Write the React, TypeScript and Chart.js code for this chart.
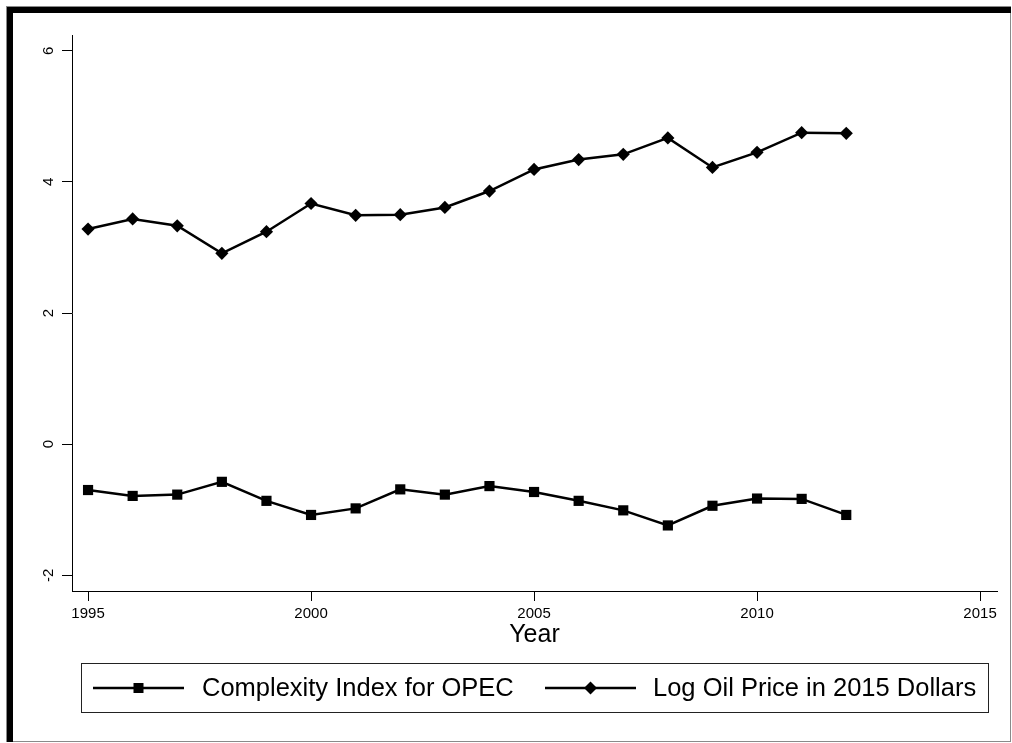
import React, { useEffect, useRef } from "react";
import { Chart, registerables } from "chart.js";

Chart.register(...registerables);

const years = [1995, 1996, 1997, 1998, 1999, 2000, 2001, 2002, 2003, 2004, 2005, 2006, 2007, 2008, 2009, 2010, 2011, 2012];
const complexity = [-0.70, -0.79, -0.77, -0.575, -0.865, -1.08, -0.98, -0.69, -0.77, -0.64, -0.73, -0.865, -1.01, -1.24, -0.94, -0.83, -0.835, -1.08];
const oilPrice = [3.28, 3.435, 3.33, 2.91, 3.24, 3.67, 3.49, 3.50, 3.61, 3.86, 4.19, 4.34, 4.42, 4.67, 4.22, 4.45, 4.75, 4.74];
const xTicks = [1995, 2000, 2005, 2010, 2015];
const yTicks = [-2, 0, 2, 4, 6];
const seriesNames = ["Complexity Index for OPEC", "Log Oil Price in 2015 Dollars"];

const FONT = "'Liberation Sans', Arial, Helvetica, sans-serif";

const framePlugin = {
  id: "frame",
  beforeDraw(chart: any) {
    const ctx = chart.ctx;
    ctx.save();
    ctx.fillStyle = "#ffffff";
    ctx.fillRect(0, 0, chart.width, chart.height);
    ctx.strokeStyle = "#8a8a8a";
    ctx.lineWidth = 1;
    ctx.strokeRect(6.5, 6.5, 1004, 735);
    ctx.fillStyle = "#000000";
    ctx.fillRect(7, 7, 1004, 6);
    ctx.fillRect(7, 7, 6, 735);
    ctx.restore();
  },
  afterDraw(chart: any) {
    const ctx = chart.ctx;
    ctx.save();
    ctx.strokeStyle = "#222";
    ctx.lineWidth = 1;
    ctx.strokeRect(81.5, 663.5, 907, 49);
    const cy = 688;
    const items = [
      { x0: 93, x1: 184, name: seriesNames[0], style: "rect", tx: 202 },
      { x0: 545, x1: 636, name: seriesNames[1], style: "diamond", tx: 653 },
    ];
    ctx.font = `25.5px ${FONT}`;
    ctx.textBaseline = "middle";
    ctx.textAlign = "left";
    for (const it of items) {
      ctx.strokeStyle = "#000";
      ctx.lineWidth = 2.5;
      ctx.beginPath();
      ctx.moveTo(it.x0, cy);
      ctx.lineTo(it.x1, cy);
      ctx.stroke();
      const mx = (it.x0 + it.x1) / 2;
      ctx.fillStyle = "#000";
      if (it.style === "rect") {
        ctx.fillRect(mx - 5, cy - 5, 10, 10);
      } else {
        ctx.beginPath();
        ctx.moveTo(mx, cy - 6.5);
        ctx.lineTo(mx + 6.5, cy);
        ctx.lineTo(mx, cy + 6.5);
        ctx.lineTo(mx - 6.5, cy);
        ctx.closePath();
        ctx.fill();
      }
      ctx.fillText(it.name, it.tx, cy + 1);
    }
    ctx.restore();
  },
};

export default function App() {
  const ref = useRef<HTMLCanvasElement | null>(null);
  useEffect(() => {
    document.body.style.margin = "0";
    const canvas = ref.current;
    if (!canvas) return;
    const chart = new Chart(canvas, {
      type: "line",
      data: {
        datasets: [
          {
            label: seriesNames[0],
            data: years.map((y, i) => ({ x: y, y: complexity[i] })),
            borderColor: "#000",
            backgroundColor: "#000",
            borderWidth: 2.5,
            pointStyle: "rect",
            pointRadius: 7.2,
            pointBorderWidth: 0,
            pointBackgroundColor: "#000",
            tension: 0,
          },
          {
            label: seriesNames[1],
            data: years.map((y, i) => ({ x: y, y: oilPrice[i] })),
            borderColor: "#000",
            backgroundColor: "#000",
            borderWidth: 2.5,
            pointStyle: "rectRot",
            pointRadius: 6.6,
            pointBorderWidth: 0,
            pointBackgroundColor: "#000",
            tension: 0,
          },
        ],
      },
      options: {
        responsive: false,
        animation: false,
        layout: { padding: { left: 0, top: 35, right: 15, bottom: 0 } },
        plugins: { legend: { display: false }, tooltip: { enabled: false } },
        scales: {
          x: {
            type: "linear",
            position: "bottom",
            min: 1994.64,
            max: 2015.38,
            afterBuildTicks: (s: any) => {
              s.ticks = xTicks.map((v) => ({ value: v }));
            },
            afterFit: (s: any) => {
              s.height = 152;
            },
            grid: { display: true, drawOnChartArea: false, drawTicks: true, tickLength: 10, color: "#000", lineWidth: 1 },
            border: { display: true, color: "#000", width: 1 },
            ticks: {
              color: "#000",
              font: { family: FONT, size: 15 },
              padding: 4,
              maxRotation: 0,
              minRotation: 0,
              autoSkip: false,
              callback: (v: any) => String(v),
            },
            title: {
              display: true,
              text: "Year",
              color: "#000",
              font: { family: FONT, size: 25 },
              padding: { top: 0, bottom: 93 },
            },
          },
          y: {
            type: "linear",
            position: "left",
            min: -2.24,
            max: 6.24,
            afterBuildTicks: (s: any) => {
              s.ticks = yTicks.map((v) => ({ value: v }));
            },
            afterFit: (s: any) => {
              s.width = 72;
            },
            grid: { display: true, drawOnChartArea: false, drawTicks: true, tickLength: 10, color: "#000", lineWidth: 1 },
            border: { display: true, color: "#000", width: 1 },
            ticks: {
              color: "#000",
              font: { family: FONT, size: 15 },
              padding: 6,
              minRotation: 90,
              maxRotation: 90,
              crossAlign: "center",
              autoSkip: false,
              callback: (v: any) => String(v),
            },
          },
        },
      },
      plugins: [framePlugin],
    } as any);
    return () => chart.destroy();
  }, []);
  return (
    <div style={{ width: 1012, height: 743, position: "relative" }}>
      <canvas ref={ref} width={1012} height={743} style={{ display: "block" }} />
    </div>
  );
}
